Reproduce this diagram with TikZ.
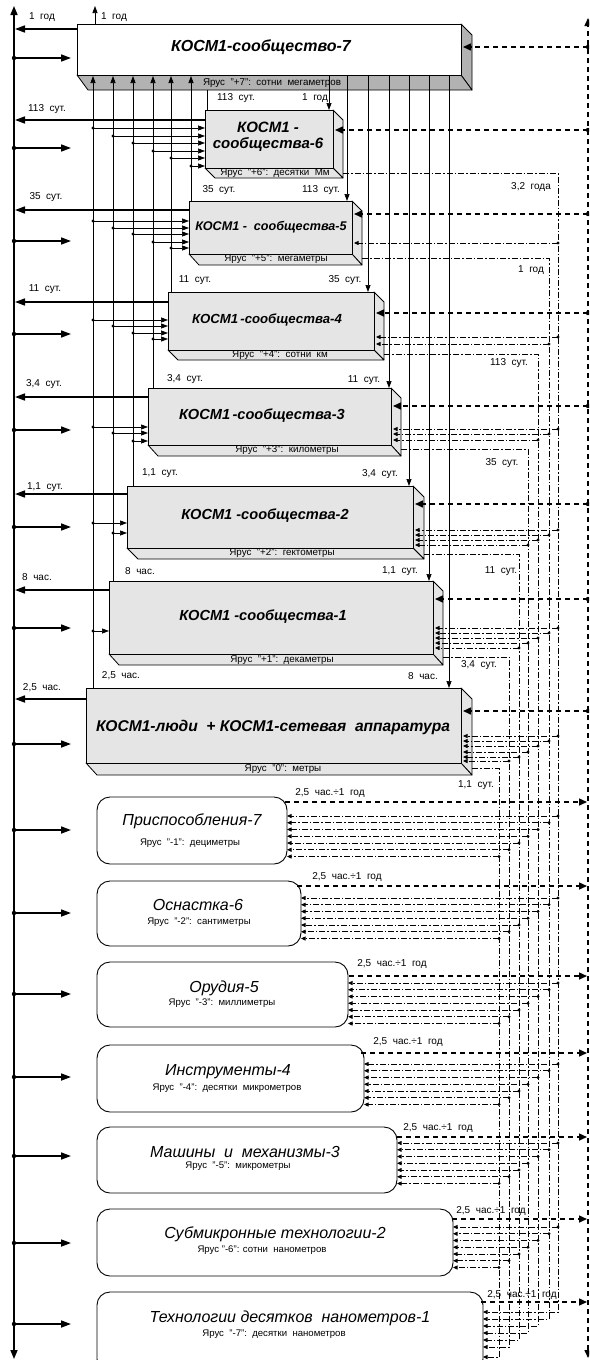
\documentclass[tikz,border=0pt]{standalone}
\usepackage{fontspec}
\setmainfont{Liberation Sans}
\usetikzlibrary{arrows.meta}
\newcommand\kosmcube[9]{%
  \filldraw[cubeline,fill=#9] (#4,#3) -- (#4+#6,#3+#6) -- (#4+#6,#5+#7) -- (#4,#5) -- cycle;
  \filldraw[cubeline,fill=#9] (#2,#5) -- (#4,#5) -- (#4+#6,#5+#7) -- (#2+#6,#5+#7) -- cycle;
  \node[cubefront,fill=#8,minimum width={(#4)-(#2)},minimum height={(#5)-(#3)}] (#1) at ({(#2+#4)/2},{(#3+#5)/2}) {};
}
\begin{document}
\begin{tikzpicture}[x=1pt,y=-1pt,
  lbl/.style={font=\fontsize{10}{11}\selectfont,inner sep=0pt},
  shelf/.style={font=\fontsize{9.8}{11}\selectfont,inner sep=0pt},
  ttl/.style={font=\fontsize{15}{16}\selectfont\bfseries\itshape,inner sep=0pt,align=center},
  rttl/.style={font=\fontsize{16}{18}\selectfont\itshape,inner sep=0pt},
  rsub/.style={font=\fontsize{9.6}{11}\selectfont,inner sep=0pt},
  cubeline/.style={draw=black,line width=0.8pt,line join=round},
  cubefront/.style={draw=black,line width=1pt,inner sep=0pt,outer sep=0pt,rectangle},
  rbox/.style={draw=black,line width=0.9pt,fill=white,rounded corners=13pt},
  bus/.style={line width=1.6pt},
  busarr/.style={line width=1.6pt,-{Triangle[length=10pt,width=7pt]}},
  thinl/.style={line width=0.7pt},
  tarr/.style={line width=0.7pt,-{Triangle[length=7pt,width=5pt]}},
  tdash/.style={line width=1.5pt,dash pattern=on 5pt off 4pt},
  tdarr/.style={tdash,-{Triangle[length=8pt,width=7pt]}},
  ddot/.style={line width=0.7pt,dash pattern=on 6pt off 2pt on 1.5pt off 2pt},
  ddarr/.style={ddot,-{Triangle[length=4.5pt,width=4pt]}}
]
\useasboundingbox (0,0) rectangle (589,1360);
\clip (0,0) rectangle (589,1360);

% ---------- rounded boxes ----------
\draw[rbox] (97,797) rectangle (287,864);
\draw[rbox] (97,881) rectangle (301,946);
\draw[rbox] (97,962) rectangle (348,1027);
\draw[rbox] (97,1045) rectangle (364,1112);
\draw[rbox] (97,1127) rectangle (397,1193);
\draw[rbox] (97,1209) rectangle (453,1276);
\draw[rbox] (97,1292) rectangle (483,1372);
\node[rttl] (r7t) at (192,821) {Приспособления-7};
\node[rsub] (r7s) at (190,843) {Ярус~~"-1":~~дециметры};
\node[rttl] (r6t) at (198,905) {Оснастка-6};
\node[rsub] (r6s) at (199,922) {Ярус~~"-2":~~сантиметры};
\node[rttl] (r5t) at (224,988) {Орудия-5};
\node[rsub] (r5s) at (222,1003) {Ярус~~"-3":~~миллиметры};
\node[rttl] (r4t) at (228,1072) {Инструменты-4};
\node[rsub] (r4s) at (227,1088) {Ярус~~"-4":~~десятки~~микрометров};
\node[rttl] (r3t) at (245,1152) {Машины~~и~~механизмы-3};
\node[rsub] (r3s) at (238,1166) {Ярус~~"-5":~~микрометры};
\node[rttl] (r2t) at (275,1234) {Субмикронные технологии-2};
\node[rsub] (r2s) at (262,1250) {Ярус "-6": сотни~~нанометров};
\node[rttl] (r1t) at (290,1318) {Технологии десятков~~нанометров-1};
\node[rsub] (r1s) at (274,1334) {Ярус~~"-7":~~десятки~~нанометров};

% ---------- cubes ----------
\kosmcube{b7}{77}{24}{461}{75}{11}{15}{white}{black!30}
\kosmcube{b6}{205}{110}{333}{168}{10}{10}{black!10}{black!10}
\kosmcube{b5}{189}{201}{352}{254}{10}{11}{black!10}{black!10}
\kosmcube{b4}{168}{292}{374}{350}{10}{10}{black!10}{black!10}
\kosmcube{b3}{148}{388}{391}{445}{10}{11}{black!10}{black!10}
\kosmcube{b2}{127}{486}{413}{548}{11}{11}{black!10}{black!10}
\kosmcube{b1}{109}{581}{433}{654}{10}{11}{black!10}{black!10}
\kosmcube{b0}{86}{688}{461}{763}{11}{12}{black!10}{black!10}

\node[ttl,font=\fontsize{16}{17}\selectfont\bfseries\itshape] (t7) at (261,47) {КОСМ1-сообщество-7};
\node[ttl] (t6) at (268,137) {КОСМ1 -\\сообщества-6};
\node[ttl,font=\fontsize{12.6}{14}\selectfont\bfseries\itshape] (t5) at (271,227) {КОСМ1 -~~сообщества-5};
\node[ttl,font=\fontsize{13.2}{15}\selectfont\bfseries\itshape] (t4) at (267,320) {КОСМ1\,-сообщества-4};
\node[ttl,font=\fontsize{14.6}{16}\selectfont\bfseries\itshape] (t3) at (262,416) {КОСМ1\,-сообщества-3};
\node[ttl,font=\fontsize{14.6}{16}\selectfont\bfseries\itshape] (t2) at (265,516) {КОСМ1 -сообщества-2};
\node[ttl,font=\fontsize{14.6}{16}\selectfont\bfseries\itshape] (t1) at (263,617) {КОСМ1 -сообщества-1};
\node[ttl,font=\fontsize{15.6}{17}\selectfont\bfseries\itshape] (t0) at (273,727) {КОСМ1-люди~~+ КОСМ1-сетевая~~аппаратура};

\node[shelf] (s7) at (272,83) {Ярус~~"+7":~~сотни~~мегаметров};
\node[shelf] (s6) at (275,173) {Ярус~~"+6":~~десятки~~Мм};
\node[shelf] (s5) at (276,259) {Ярус~~"+5":~~мегаметры};
\node[shelf] (s4) at (280,355) {Ярус~~"+4":~~сотни~~км};
\node[shelf] (s3) at (287,450) {Ярус~~"+3":~~километры};
\node[shelf] (s2) at (282,553) {Ярус~~"+2":~~гектометры};
\node[shelf] (s1) at (282,660) {Ярус~~"+1":~~декаметры};
\node[shelf] (s0) at (283,769) {Ярус~~"0":~~метры};

% ---------- left bus ----------
\draw[bus,{Triangle[length=9pt,width=7pt]}-{Triangle[length=9pt,width=7pt]}] (14,1359) -- (14,6);
\foreach \xx/\yy in {77/29,205/120,189/210,168/302,148/397,127/494,109/590,86/699}
  \draw[busarr] (\xx,\yy) -- (15,\yy);
\foreach \yy in {58,148,241,334,430,527,628,744,830,913,994,1077,1156,1243,1324}
  {\fill (14,\yy) circle (2.2); \draw[busarr] (14,\yy) -- (71,\yy);}
\node[lbl] (la7) at (42,17) {1~~год};
\node[lbl] (la6) at (47,109) {113~~сут.};
\node[lbl] (la5) at (46,197) {35~~сут.};
\node[lbl] (la4) at (45,289) {11~~сут.};
\node[lbl] (la3) at (44,384) {3,4~~сут.};
\node[lbl] (la2) at (45,487) {1,1~~сут.};
\node[lbl] (la1) at (37,577) {8~~час.};
\node[lbl] (la0) at (42,688) {2,5~~час.};

% top "1 god" arrow
\draw[tarr] (95,24) -- (95,6);
\node[lbl] (ltop) at (114,17) {1~~год};

% ---------- left up-lines ----------
\foreach \X/\Y in {93/688,113/581,133/486,153/388,171/292,191/201}
  \draw[tarr] (\X,\Y) -- (\X,76);
\draw[thinl] (207,110) -- (207,90);
\foreach \X/\Y/\T in {93/128/205,113/136/205,133/143/205,153/151/205,171/158/205,191/166/205,
  93/221/189,113/228/189,133/234/189,153/242/189,171/248/189,
  93/320/168,113/326/168,133/333/168,153/339/168,
  93/427/148,113/433/148,133/441/148,
  93/523/127,113/533/127,
  93/631/109}
  {\fill (\X,\Y) circle (1.6); \draw[tarr] (\X,\Y) -- (\T,\Y);}
\node[lbl] (lb6) at (236,98) {113~~сут.};
\node[lbl] (lb5) at (219,190) {35~~сут.};
\node[lbl] (lb4) at (195,280) {11~~сут.};
\node[lbl] (lb3) at (185,379) {3,4~~сут.};
\node[lbl] (lb2) at (160,473) {1,1~~сут.};
\node[lbl] (lb1) at (140,571) {8~~час.};
\node[lbl] (lb0) at (121,676) {2,5~~час.};

% ---------- right down-lines ----------
\foreach \X/\Y in {329/110,347/201,368/292,389/388,409/486,429/581,449/688}
  \draw[tarr] (\X,75) -- (\X,\Y);
\node[lbl] (lc6) at (315,98) {1~~год};
\node[lbl] (lc5) at (321,190) {113~~сут.};
\node[lbl] (lc4) at (345,280) {35~~сут.};
\node[lbl] (lc3) at (364,380) {11~~сут.};
\node[lbl] (lc2) at (380,474) {3,4~~сут.};
\node[lbl] (lc1) at (400,571) {1,1~~сут.};
\node[lbl] (lc0) at (423,676) {8~~час.};

% ---------- dash-dot network ----------
\foreach \X/\ys/\sx/\ye in {558/173/343/1312,549/258/362/1319,538/354/384/1326,528/449/401/1333,519/554/424/1340,509/657/443/1347,499/768/472/1357}
  \draw[ddarr] (\sx,\ys) -- (\X,\ys) -- (\X,\ye) -- (483,\ye);
\foreach \X/\Y/\T in {558/243/354,
  558/337/376,549/344/376,
  558/429/393,549/434/393,538/440/393,
  558/530/415,549/535/415,538/540/415,528/545/415,
  558/628/435,549/633/435,538/638/435,528/643/435,519/648/435,
  558/736/463,549/741/463,538/746/463,528/752/463,519/757/463,509/761/463}
  {\fill (\X,\Y) circle (1.7); \draw[ddarr] (\X,\Y) -- (\T,\Y);}
\foreach \T/\ya in {287/816,301/898,348/983,364/1064,397/1143,453/1227}
  \foreach \X [count=\i from 0] in {558,549,538,528,519,509,499}
  {\pgfmathsetmacro\yy{\ya+\i*6.75}
   \fill (\X,\yy) circle (1.7); \draw[ddarr] (\X,\yy) -- (\T,\yy);}
\node[lbl] (ld6) at (531,187) {3,2~~года};
\node[lbl] (ld5) at (531,270) {1~~год};
\node[lbl] (ld4) at (509,363) {113~~сут.};
\node[lbl] (ld3) at (502,463) {35~~сут.};
\node[lbl] (ld2) at (501,571) {11~~сут.};
\node[lbl] (ld1) at (479,665) {3,4~~сут.};
\node[lbl] (ld0) at (476,785) {1,1~~сут.};

% ---------- right dashed bus ----------
\draw[tdash,{Triangle[length=8pt,width=7pt]}-{Triangle[length=8pt,width=7pt]}] (588,1358) -- (588,18);
\foreach \yy/\tx in {47/463,130/335,214/354,313/376,406/393,504/415,599/435,711/463}
  {\fill (588,\yy) circle (2.2); \draw[tdarr] (588,\yy) -- (\tx,\yy);}
\foreach \sx/\yy in {285/802,297/886,349/976,361/1053,397/1137,452/1219,481/1302}
  \draw[tdarr] (\sx,\yy) -- (587,\yy);
\node[lbl] (le7) at (330,793) {2,5~~час.÷1~~год};
\node[lbl] (le6) at (347,877) {2,5~~час.÷1~~год};
\node[lbl] (le5) at (392,964) {2,5~~час.÷1~~год};
\node[lbl] (le4) at (408,1042) {2,5~~час.÷1~~год};
\node[lbl] (le3) at (438,1128) {2,5~~час.÷1~~год};
\node[lbl] (le2) at (491,1211) {2,5~~час.÷1~~год};
\node[lbl] (le1) at (522,1295) {2,5~~час.÷1~~год};
\end{tikzpicture}
\end{document}
